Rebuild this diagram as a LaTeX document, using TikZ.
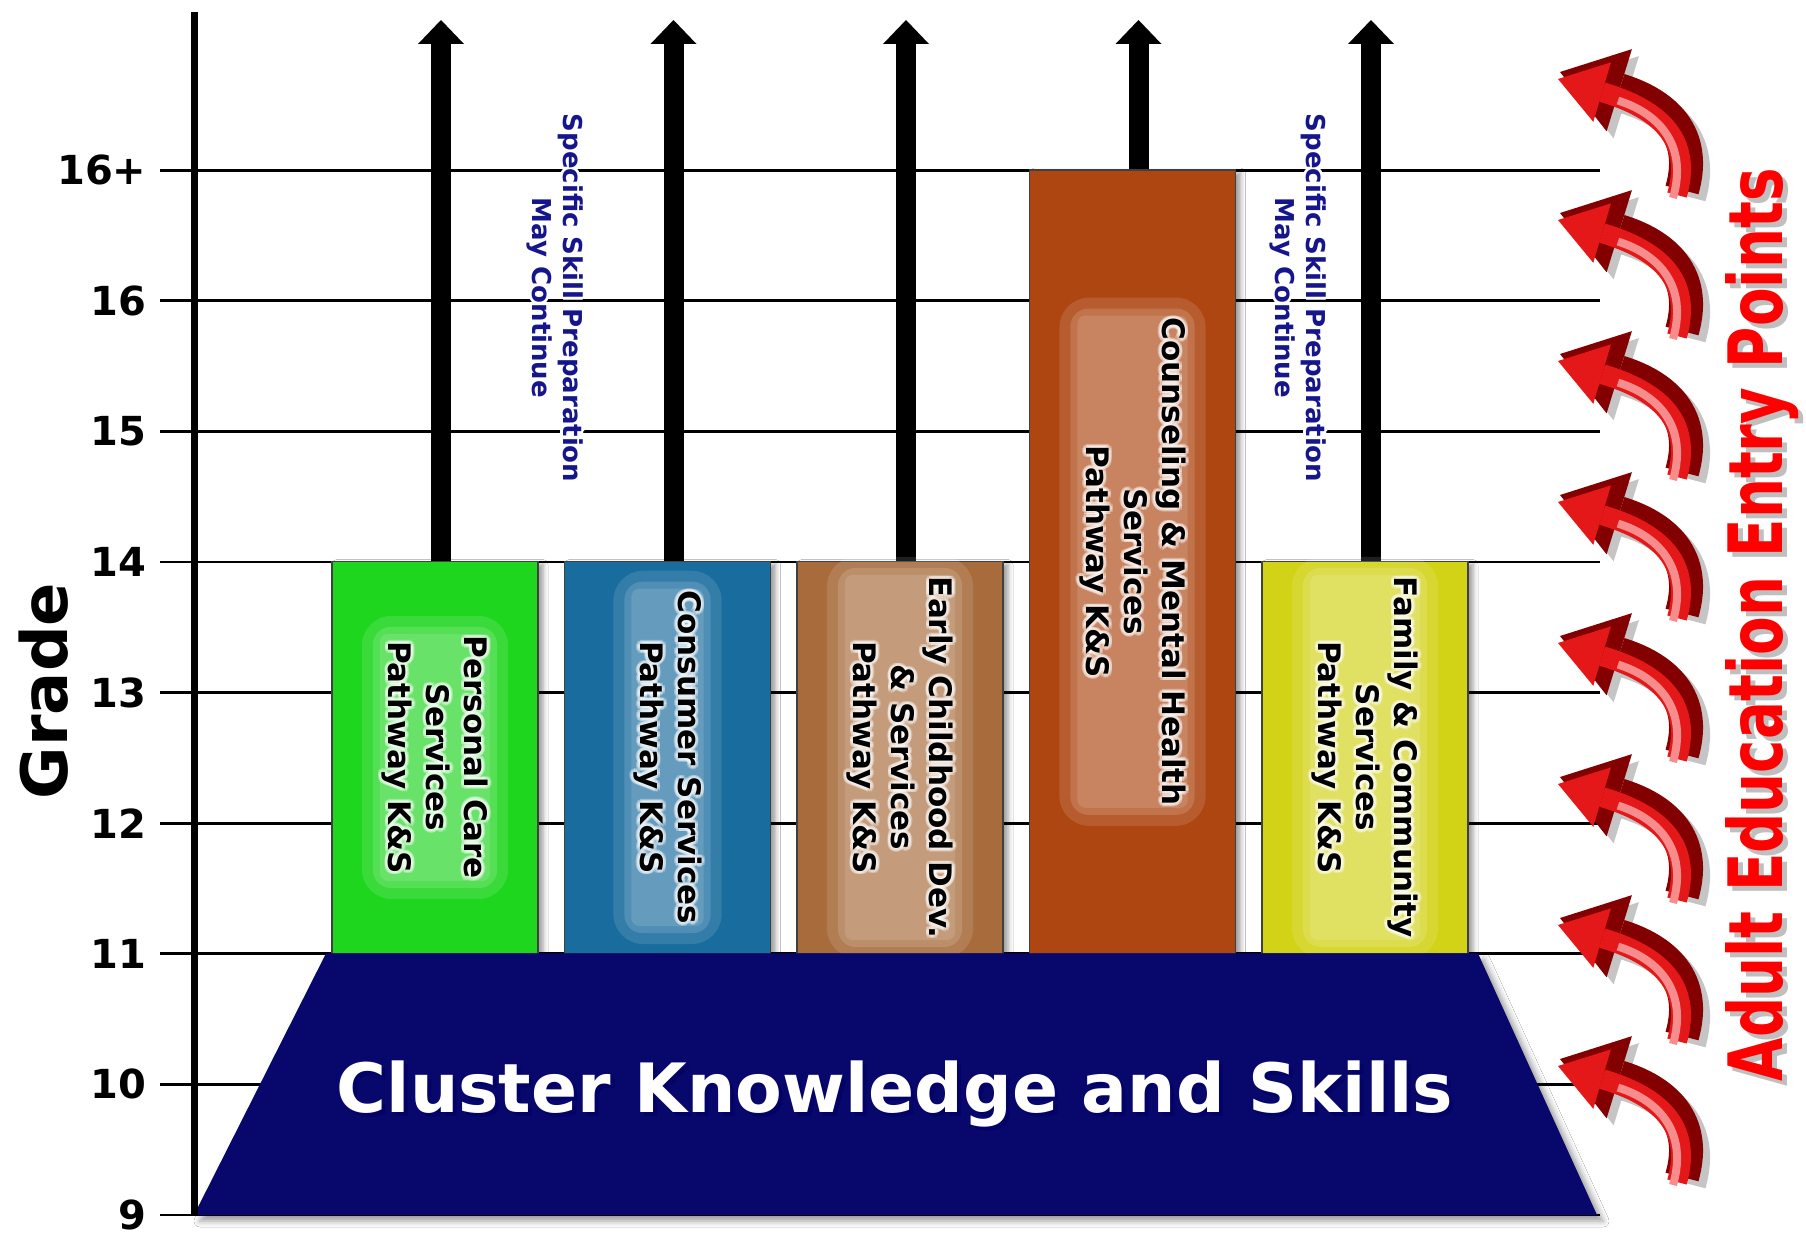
\documentclass[tikz,border=0pt]{standalone}
\usepackage{fontspec}
\setmainfont{DejaVu Sans}
\usepackage{tikz}
\usetikzlibrary{calc,arrows.meta,shadows.blur}

\definecolor{pcgreen}{RGB}{30,214,30}
\definecolor{csblue}{RGB}{24,108,158}
\definecolor{ectan}{RGB}{168,108,60}
\definecolor{cmrust}{RGB}{174,70,18}
\definecolor{fcyellow}{RGB}{210,210,22}
\definecolor{clnavy}{RGB}{8,8,108}
\definecolor{skillblue}{RGB}{22,22,140}
\definecolor{entryred}{RGB}{228,24,24}
\definecolor{entrydark}{RGB}{130,0,0}
\definecolor{entrypink}{RGB}{246,140,140}

\tikzset{
	gridline/.style={line width=2.8pt},
	pathbox/.style={draw=black!75, line width=1.5pt, minimum width=206pt, inner sep=0pt,
		blur shadow={shadow xshift=5pt, shadow yshift=-3pt, shadow blur radius=5pt}},
	pathtext/.style={rotate=-90, align=center, font=\fontsize{31}{38}\selectfont\bfseries, inner sep=2pt},
	halo/.style={pathtext, fill=white, text opacity=0, rounded corners=#1},
	uparrow/.style={line width=20pt, -{Triangle[length=24pt, width=46pt, line width=0pt]}},
	skilltext/.style={rotate=-90, align=center, text=skillblue, font=\fontsize{26}{31}\selectfont\bfseries},
	gradelabel/.style={anchor=east, font=\fontsize{40}{40}\selectfont\bfseries},
	entrytip/.style={line width=34pt, entrydark, -{Triangle[length=62pt, width=86pt, line width=0pt]}},
}

\newcommand{\glowlabel}[3]{%
	\node[halo=30pt, fill opacity=.12, inner sep=20pt] at (#1) {#3};
	\node[halo=18pt, fill opacity=.14, inner sep=9pt] at (#1) {#3};
	\node[halo=8pt, fill opacity=.12, inner sep=2pt] at (#1) {#3};
	\foreach \a in {0,30,...,330}
		\node[pathtext, text=white, text opacity=.3] at ($(#1)+(\a:3.5pt)$) {#3};
	\node[pathtext] (#2) at (#1) {#3};
}

\begin{document}
\begin{tikzpicture}[x=1pt, y=-1pt]
	\fill[white] (0,0) rectangle (1806,1239);
	\useasboundingbox (0,0) rectangle (1806,1239);

	\foreach \lab [count=\i from 0] in {9,10,11,12,13,14,15,16,16+}{
		\draw[gridline] (160,1215-\i*130.6) -- (1600,1215-\i*130.6);
		\node[gradelabel] (g\i) at (150,1215-\i*130.6) {\lab};
	}
	\node[rotate=90, font=\fontsize{64}{64}\selectfont\bfseries] (grade) at (44,691) {Grade};

	\node[pathbox, fill=pcgreen, minimum height=392pt] (pcs) at (435,757.4) {};
	\node[pathbox, fill=csblue, minimum height=392pt] (css) at (667.5,757.4) {};
	\node[pathbox, fill=ectan, minimum height=392pt] (ecd) at (900,757.4) {};
	\node[pathbox, fill=cmrust, minimum height=783.4pt] (cmh) at (1132.5,561.7) {};
	\node[pathbox, fill=fcyellow, minimum height=392pt] (fcs) at (1365,757.4) {};

	\coordinate (top) at (0,20);
	\foreach \b in {pcs,css,ecd,cmh,fcs}
		\draw[uparrow] ([xshift=6pt]\b.north) -- ([xshift=6pt]\b.north |- top);

	\glowlabel{pcs.center}{pcs-t}{Personal Care\\Services\\Pathway K\&S}
	\glowlabel{css.center}{css-t}{Consumer Services\\Pathway K\&S}
	\glowlabel{ecd.center}{ecd-t}{Early Childhood Dev.\\\& Services\\Pathway K\&S}
	\glowlabel{cmh.center}{cmh-t}{Counseling \& Mental Health\\Services\\Pathway K\&S}
	\glowlabel{fcs.center}{fcs-t}{Family \& Community\\Services\\Pathway K\&S}

	\foreach \sx in {555,1298}{
		\foreach \a in {0,45,...,315}
			\node[skilltext, text=white] at ($(\sx,298)+(\a:3pt)$) {Specific Skill Preparation\\May Continue};
		\node[skilltext] (skill\sx) at (\sx,298) {Specific Skill Preparation\\May Continue};
	}

	\fill[clnavy, blur shadow={shadow xshift=6pt, shadow yshift=-6pt, shadow blur radius=6pt}]
		(326,953.4) -- (1478,953.4) -- (1597,1215) -- (194,1215) -- cycle;
	\draw[line width=7pt] (194,12) -- (194,1215);
	\node[anchor=base, text=blue!40!black, opacity=.7, font=\fontsize{68}{68}\selectfont\bfseries] at (899,1116) {Cluster Knowledge and Skills};
	\node[anchor=base, text=white, font=\fontsize{68}{68}\selectfont\bfseries] (cks) at (895,1112) {Cluster Knowledge and Skills};

	\foreach \t in {72,213,...,1059}{
		\draw[entrytip, gray, opacity=.45, shift={(7,7)}] (1682,\t+118) .. controls (1698,\t+62) and (1664,\t+32) .. (1560,\t);
		\draw[entrytip] (1682,\t+118) .. controls (1698,\t+62) and (1664,\t+32) .. (1560,\t);
		\draw[entryred, line width=20pt, -{Triangle[length=46pt, width=62pt, line width=0pt]}, shift={(-5,5)}]
			(1682,\t+118) .. controls (1698,\t+62) and (1664,\t+32) .. (1563,\t+2);
		\draw[entrypink, line width=8pt, shorten >=70pt, shift={(-9,8)}] (1682,\t+118) .. controls (1698,\t+62) and (1664,\t+32) .. (1560,\t);
	}

	\node[rotate=90, text=gray, opacity=.5, font=\fontsize{75}{75}\selectfont\bfseries] at (1767,630) {\scalebox{.75}[1]{Adult Education Entry Points}};
	\node[rotate=90, text=red, font=\fontsize{75}{75}\selectfont\bfseries] (adult) at (1762,625) {\scalebox{.75}[1]{Adult Education Entry Points}};
\end{tikzpicture}
\end{document}
